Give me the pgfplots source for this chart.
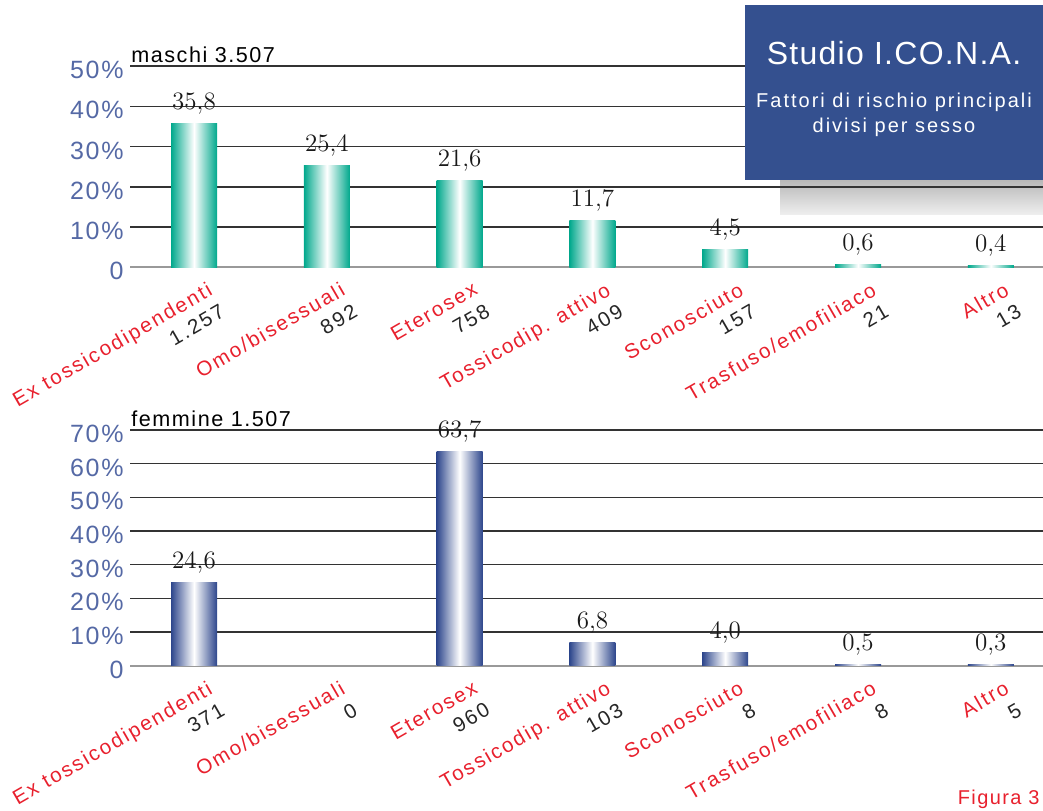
\documentclass[border=0pt]{standalone}
\usepackage{pgfplots}
\pgfplotsset{compat=1.18}
\usepackage{fontspec}
\newfontfamily\sansA[LetterSpace=10]{Liberation Sans}
\newfontfamily\sansY[LetterSpace=7]{Liberation Sans}
\newfontfamily\sansB[LetterSpace=7]{Liberation Sans}
\newfontfamily\sansT[LetterSpace=4]{Liberation Sans}
\definecolor{icteal}{RGB}{0,168,140}
\definecolor{icblue}{RGB}{45,70,140}
\definecolor{icred}{RGB}{232,32,45}
\definecolor{ticktxt}{RGB}{85,105,165}
\definecolor{boxblue}{RGB}{52,80,143}
\pgfplotsset{
  icaxis/.style={
    scale only axis, width=456.5pt, anchor=south west,
    xmin=-0.482, xmax=6.393, ymin=0, clip=false,
    axis line style={draw=none}, major tick length=0pt,
    ymajorgrids, grid style={black!80, line width=0.75pt},
    extra y ticks={0}, extra y tick labels={0},
    extra y tick style={grid style={black!40, line width=1.1pt}},
    xtick={0,1,2,3,4,5,6},
    yticklabel style={font=\sansY\fontsize{12.5}{14}\selectfont, text=ticktxt, inner sep=0pt, xshift=-3pt, yshift=-2pt},
    xticklabel style={xshift=7.3pt, yshift=-2.3pt, rotate=30, anchor=north east, align=right, inner sep=3.3pt,
      font=\sansA\fontsize{10.3}{12.6}\selectfont, text=black!85},
  },
  mbar/.style={ybar, bar width=23pt, bar shift=0pt, draw=none, left color=#1, right color=#1, middle color=white},
  vlabels/.style={draw=none, mark=none, nodes near coords, point meta=explicit symbolic,
    nodes near coords style={anchor=base, yshift=7pt, font=\fontsize{12.5}{14}\selectfont\addfontfeatures{FakeBold=0.6}, text=black!90}},
}
\begin{document}
\begin{tikzpicture}
\path[use as bounding box] (0pt,0pt) rectangle (521.5pt,405pt);
\shade[top color=black!28, bottom color=black!6] (390pt,297.5pt) rectangle (521.5pt,315pt);

% ---- maschi ----
\begin{axis}[icaxis, at={(65pt,271.35pt)}, height=100.65pt, ymax=50,
  ytick={10,20,30,40,50}, yticklabels={10\%,20\%,30\%,40\%,50\%},
  xticklabels={
    {\textcolor{icred}{Ex tossicodipendenti}\\1.257},
    {\textcolor{icred}{Omo/bisessuali}\\892},
    {\textcolor{icred}{Eterosex}\\758},
    {\textcolor{icred}{Tossicodip. attivo}\\409},
    {\textcolor{icred}{Sconosciuto}\\157},
    {\textcolor{icred}{Trasfuso/emofiliaco}\\21},
    {\textcolor{icred}{Altro}\\13}}]
\addplot[mbar=icteal] coordinates {(0,35.8)};
\addplot[mbar=icteal] coordinates {(1,25.4)};
\addplot[mbar=icteal] coordinates {(2,21.6)};
\addplot[mbar=icteal] coordinates {(3,11.7)};
\addplot[mbar=icteal] coordinates {(4,4.5)};
\addplot[mbar=icteal] coordinates {(5,0.6)};
\addplot[mbar=icteal] coordinates {(6,0.4)};
\addplot[vlabels] coordinates {(0,35.8) [35,8] (1,25.4) [25,4] (2,21.6) [21,6] (3,11.7) [11,7] (4,4.5) [4,5] (5,0.6) [0,6] (6,0.4) [0,4]};
\node[anchor=base west, inner sep=0pt, font=\sansB\fontsize{10.8}{12}\selectfont, yshift=2pt, xshift=0.5pt] at (rel axis cs:0,1) {maschi 3.507};
\end{axis}

% ---- femmine ----
\begin{axis}[icaxis, at={(65pt,72.15pt)}, height=117.85pt, ymax=70,
  ytick={10,20,30,40,50,60,70}, yticklabels={10\%,20\%,30\%,40\%,50\%,60\%,70\%},
  xticklabels={
    {\textcolor{icred}{Ex tossicodipendenti}\\371},
    {\textcolor{icred}{Omo/bisessuali}\\0},
    {\textcolor{icred}{Eterosex}\\960},
    {\textcolor{icred}{Tossicodip. attivo}\\103},
    {\textcolor{icred}{Sconosciuto}\\8},
    {\textcolor{icred}{Trasfuso/emofiliaco}\\8},
    {\textcolor{icred}{Altro}\\5}}]
\addplot[mbar=icblue] coordinates {(0,24.6)};
\addplot[mbar=icblue] coordinates {(2,63.7)};
\addplot[mbar=icblue] coordinates {(3,6.8)};
\addplot[mbar=icblue] coordinates {(4,4.0)};
\addplot[mbar=icblue] coordinates {(5,0.5)};
\addplot[mbar=icblue] coordinates {(6,0.3)};
\addplot[vlabels] coordinates {(0,24.6) [24,6] (2,63.7) [63,7] (3,6.8) [6,8] (4,4.0) [4,0] (5,0.5) [0,5] (6,0.3) [0,3]};
\node[anchor=base west, inner sep=0pt, font=\sansB\fontsize{10.8}{12}\selectfont, yshift=1.75pt, xshift=0.5pt] at (rel axis cs:0,1) {femmine 1.507};
\end{axis}

% ---- title box ----
\fill[boxblue] (372.5pt,315pt) rectangle (521.5pt,402.5pt);
\node[anchor=base, text=white, inner sep=0pt, font=\sansT\fontsize{16}{18}\selectfont] at (447pt,372.5pt) {Studio I.CO.N.A.};
\node[anchor=base, text=white, inner sep=0pt, font=\sansA\fontsize{10}{12}\selectfont] at (447pt,351pt) {Fattori di rischio principali};
\node[anchor=base, text=white, inner sep=0pt, font=\sansA\fontsize{10}{12}\selectfont] at (447pt,338.5pt) {divisi per sesso};
\node[anchor=base east, text=icred, inner sep=0pt, font=\sansB\fontsize{10}{12}\selectfont] at (520pt,3pt) {Figura 3};
\end{tikzpicture}
\end{document}
